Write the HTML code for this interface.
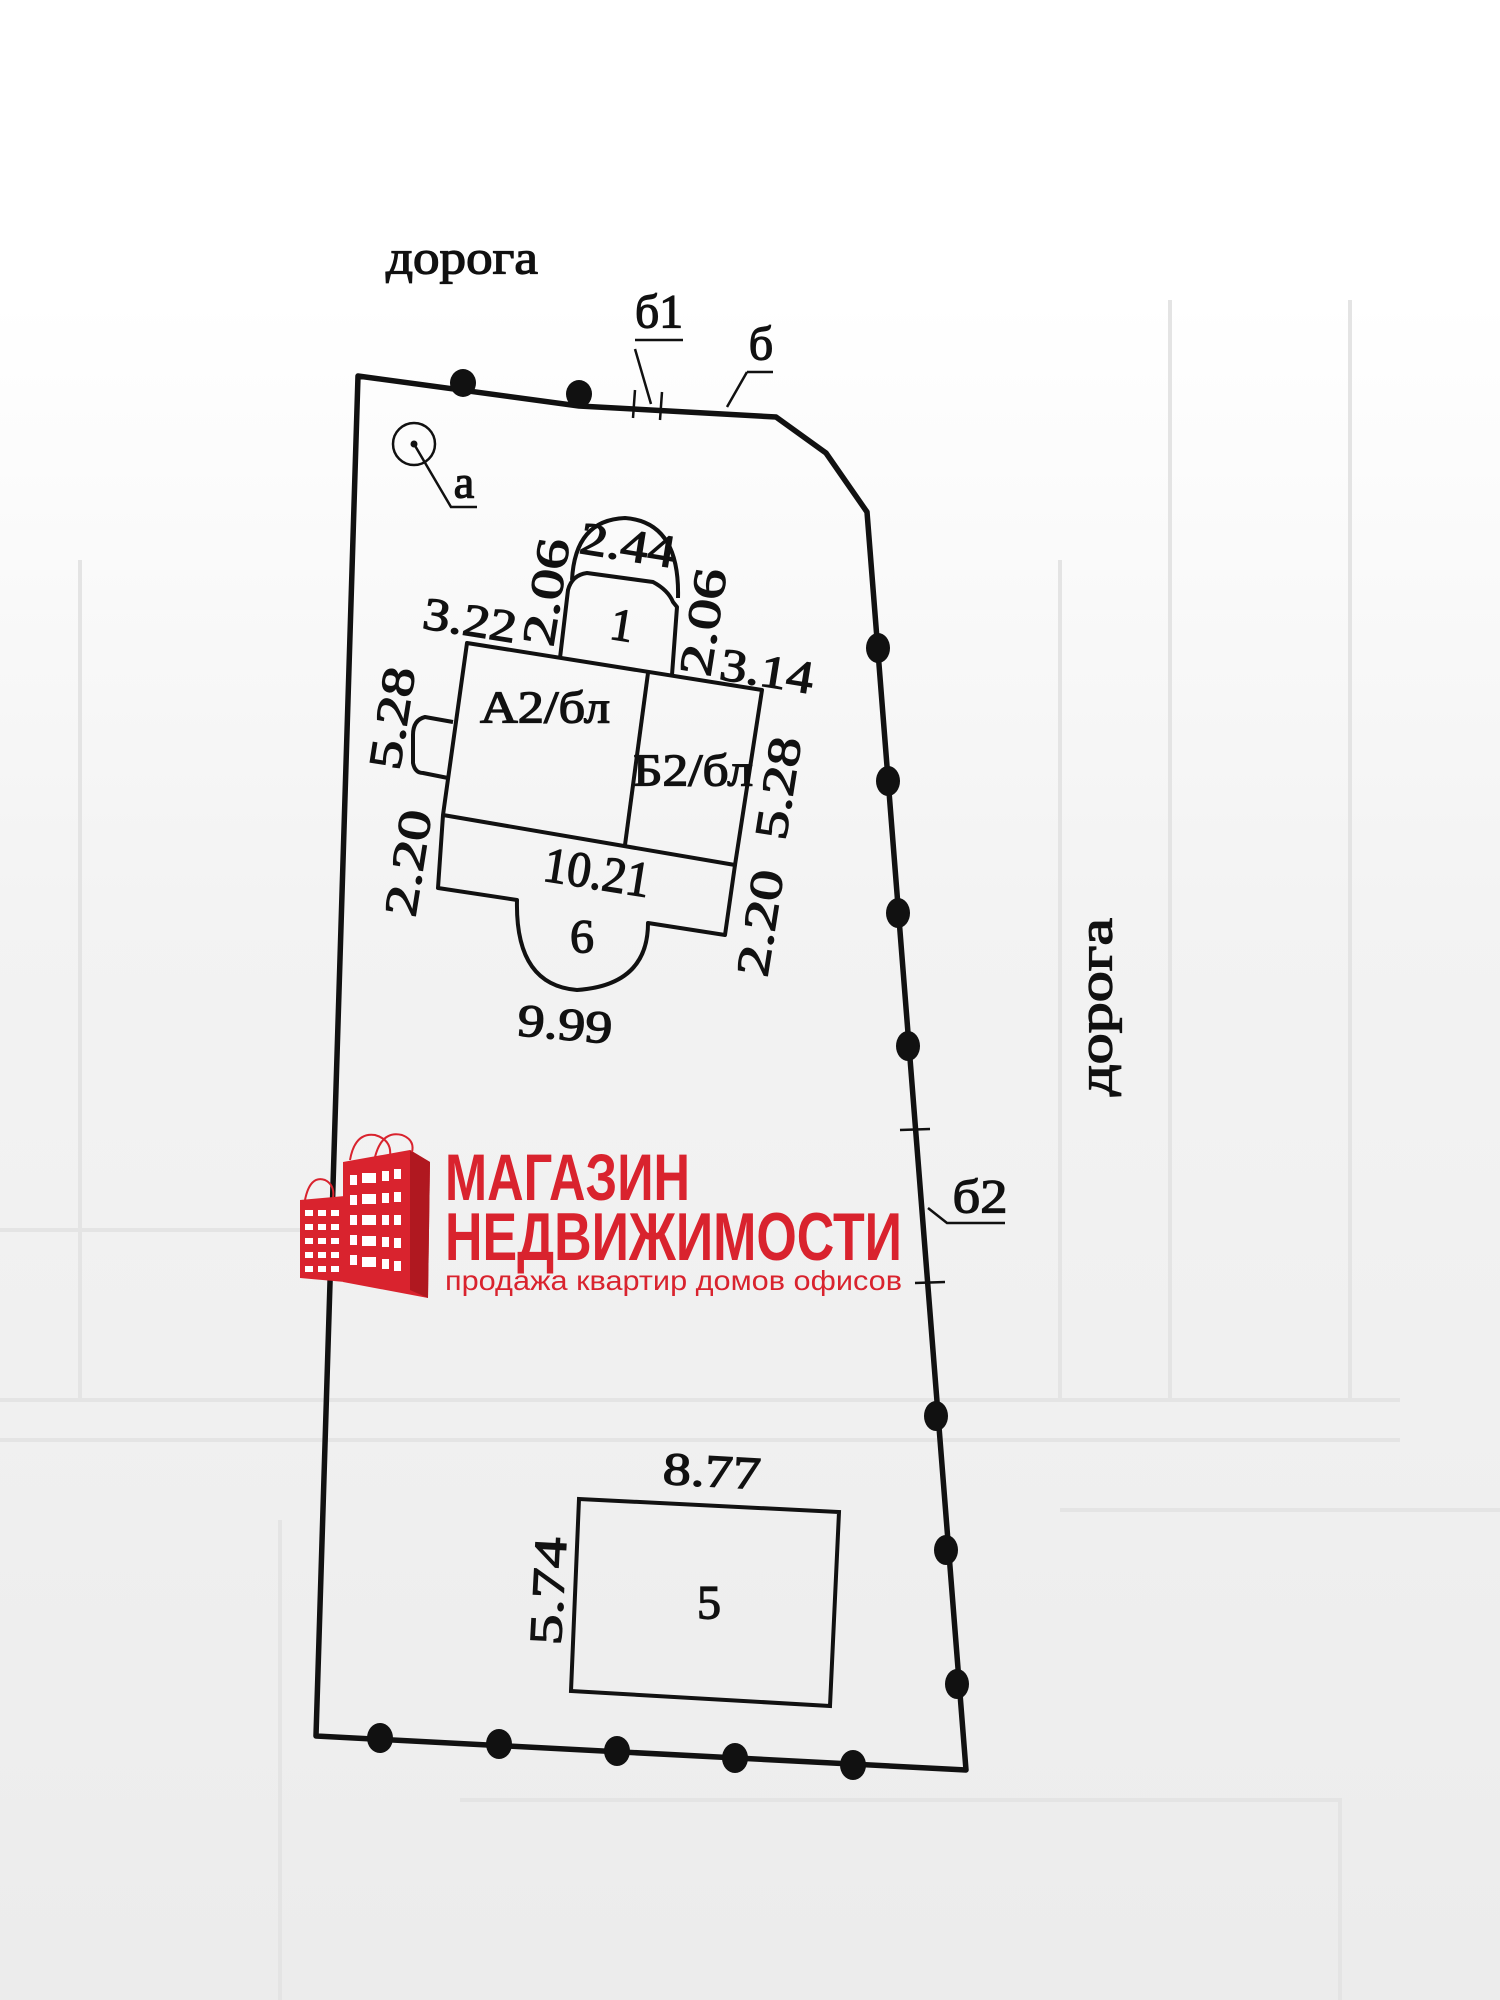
<!DOCTYPE html>
<html><head><meta charset="utf-8"><style>
html,body{margin:0;padding:0;background:#fff;}
svg{display:block;}
.t{font-family:"Liberation Serif",serif;fill:#111;stroke:#111;stroke-width:1.3;text-anchor:middle;dominant-baseline:central;}
.l{font-family:"Liberation Sans Narrow","Liberation Sans",sans-serif;font-weight:bold;fill:#d9232e;}
</style></head><body>
<svg width="1500" height="2000" viewBox="0 0 1500 2000" xmlns="http://www.w3.org/2000/svg">
<defs>
<linearGradient id="bg" x1="0" y1="0" x2="0" y2="1">
<stop offset="0" stop-color="#ffffff"/>
<stop offset="0.15" stop-color="#ffffff"/>
<stop offset="0.45" stop-color="#f3f3f3"/>
<stop offset="1" stop-color="#ececec"/>
</linearGradient>
</defs>
<rect width="1500" height="2000" fill="url(#bg)"/>
<g stroke="#e4e4e4" stroke-width="4" fill="none">
<path d="M0 1400 L1400 1400 M0 1440 L1400 1440 M1060 560 L1060 1400 M1170 300 L1170 1400"/>
<path d="M1060 1510 L1500 1510 M1350 300 L1350 1400"/>
<path d="M280 1520 L280 2000 M460 1800 L1340 1800 L1340 2000"/>
<path d="M0 1230 L300 1230 M80 560 L80 1400"/>
</g>
<g stroke="#111" fill="none" stroke-linejoin="round">
<path d="M358 376 L579 406 L776 417 L826 453 L867 512 L966 1770 L316 1736 Z" stroke-width="5.5"/>
</g>
<g fill="#111">
<ellipse cx="463" cy="383" rx="13" ry="14"/>
<ellipse cx="579" cy="394" rx="13" ry="14"/>
<ellipse cx="878" cy="648" rx="12" ry="15"/>
<ellipse cx="888" cy="781" rx="12" ry="15"/>
<ellipse cx="898" cy="913" rx="12" ry="15"/>
<ellipse cx="908" cy="1046" rx="12" ry="15"/>
<ellipse cx="936" cy="1416" rx="12" ry="15"/>
<ellipse cx="946" cy="1550" rx="12" ry="15"/>
<ellipse cx="957" cy="1684" rx="12" ry="15"/>
<ellipse cx="380" cy="1738" rx="13" ry="15"/>
<ellipse cx="499" cy="1744" rx="13" ry="15"/>
<ellipse cx="617" cy="1751" rx="13" ry="15"/>
<ellipse cx="735" cy="1758" rx="13" ry="15"/>
<ellipse cx="853" cy="1765" rx="13" ry="15"/>
</g>
<g stroke="#111" fill="none" stroke-width="2.5">
<path d="M635 390 L633 418 M662 392 L660 420"/>
<path d="M900 1130 L930 1129 M915 1283 L945 1282"/>
<path d="M635 349 L651 404 M635 340 L683 340"/>
<path d="M747 372 L727 407 M747 372 L773 372"/>
<path d="M928 1208 L947 1223 L1005 1223"/>
<circle cx="414" cy="444" r="21"/>
<path d="M414 444 L451 507 L477 507"/>
</g>
<circle cx="414" cy="444" r="3.5" fill="#111"/>
<g stroke="#111" fill="none" stroke-width="4" stroke-linejoin="round">
<path d="M467 643 L762 690 L735 865 L443 815 Z"/>
<path d="M648 673 L625 845"/>
<path d="M443 815 L438 888 L517 900 Q515 985 577 990 Q648 985 648 923 L725 935 L735 865"/>
<path d="M560 658 L568 590 Q572 575 587 573 L653 582 Q668 590 673 602 L677 607 L672 675"/>
<path d="M572 580 Q575 520 625 518 Q680 522 678 598"/>
<path d="M453 722 L425 717 Q413 720 413 735 L413 763 Q415 773 423 773 L448 778"/>
</g>
<path d="M579 1499 L839 1512 L830 1706 L571 1691 Z" stroke="#111" fill="none" stroke-width="4"/>
<text class="t" x="462" y="258" font-size="48" textLength="152" lengthAdjust="spacingAndGlyphs">дорога</text>
<text class="t" x="659" y="312" font-size="48" textLength="48" lengthAdjust="spacingAndGlyphs">б1</text>
<text class="t" x="761" y="344" font-size="48">б</text>
<text class="t" x="464" y="482" font-size="46">а</text>
<text class="t" x="980" y="1197" font-size="48" textLength="55" lengthAdjust="spacingAndGlyphs">б2</text>
<text class="t" transform="translate(1096,1007) rotate(-90)" font-size="48" textLength="178" lengthAdjust="spacingAndGlyphs">дорога</text>
<text class="t" transform="translate(470,620) rotate(9)" font-size="46" textLength="94" lengthAdjust="spacingAndGlyphs">3.22</text>
<text class="t" transform="translate(546,592) rotate(-81)" font-size="46" textLength="108" lengthAdjust="spacingAndGlyphs">2.06</text>
<text class="t" transform="translate(628,545) rotate(9)" font-size="46" textLength="96" lengthAdjust="spacingAndGlyphs">2.44</text>
<text class="t" transform="translate(703,622) rotate(-81)" font-size="46" textLength="108" lengthAdjust="spacingAndGlyphs">2.06</text>
<text class="t" transform="translate(767,671) rotate(9)" font-size="46" textLength="94" lengthAdjust="spacingAndGlyphs">3.14</text>
<text class="t" transform="translate(622,625) rotate(9)" font-size="46">1</text>
<text class="t" x="545" y="707" font-size="46" textLength="130" lengthAdjust="spacingAndGlyphs">А2/бл</text>
<text class="t" x="693" y="770" font-size="46" textLength="120" lengthAdjust="spacingAndGlyphs">Б2/бл</text>
<text class="t" transform="translate(392,718) rotate(-81)" font-size="46" textLength="103" lengthAdjust="spacingAndGlyphs">5.28</text>
<text class="t" transform="translate(778,788) rotate(-81)" font-size="46" textLength="103" lengthAdjust="spacingAndGlyphs">5.28</text>
<text class="t" transform="translate(408,863) rotate(-81)" font-size="46" textLength="107" lengthAdjust="spacingAndGlyphs">2.20</text>
<text class="t" transform="translate(597,872) rotate(9)" font-size="50" textLength="107" lengthAdjust="spacingAndGlyphs">10.21</text>
<text class="t" x="582" y="937" font-size="48">6</text>
<text class="t" transform="translate(760,923) rotate(-81)" font-size="46" textLength="107" lengthAdjust="spacingAndGlyphs">2.20</text>
<text class="t" transform="translate(565,1024) rotate(5)" font-size="46" textLength="95" lengthAdjust="spacingAndGlyphs">9.99</text>
<text class="t" transform="translate(712,1471) rotate(3)" font-size="46" textLength="98" lengthAdjust="spacingAndGlyphs">8.77</text>
<text class="t" transform="translate(548,1591) rotate(-87)" font-size="46" textLength="108" lengthAdjust="spacingAndGlyphs">5.74</text>
<text class="t" x="709" y="1603" font-size="48">5</text>
<g>
<path d="M300 1200 L345 1196 L345 1282 L300 1278 Z" fill="#d9232e"/>
<path d="M343 1162 L410 1150 L430 1162 L428 1298 L343 1282 Z" fill="#d9232e"/>
<path d="M410 1150 L430 1162 L428 1298 L410 1290 Z" fill="#b01820"/>
<g fill="#fff">
<rect x="305" y="1210" width="8" height="6"/><rect x="318" y="1210" width="8" height="6"/><rect x="331" y="1210" width="8" height="6"/>
<rect x="305" y="1224" width="8" height="6"/><rect x="318" y="1224" width="8" height="6"/><rect x="331" y="1224" width="8" height="6"/>
<rect x="305" y="1238" width="8" height="6"/><rect x="318" y="1238" width="8" height="6"/><rect x="331" y="1238" width="8" height="6"/>
<rect x="305" y="1252" width="8" height="6"/><rect x="318" y="1252" width="8" height="6"/><rect x="331" y="1252" width="8" height="6"/>
<rect x="305" y="1266" width="8" height="6"/><rect x="318" y="1266" width="8" height="6"/><rect x="331" y="1266" width="8" height="6"/>
<rect x="350" y="1175" width="7" height="10"/><rect x="362" y="1173" width="14" height="10"/><rect x="382" y="1171" width="7" height="10"/><rect x="394" y="1169" width="7" height="10"/>
<rect x="350" y="1195" width="7" height="10"/><rect x="362" y="1194" width="14" height="10"/><rect x="382" y="1193" width="7" height="10"/><rect x="394" y="1192" width="7" height="10"/>
<rect x="350" y="1215" width="7" height="10"/><rect x="362" y="1215" width="14" height="10"/><rect x="382" y="1215" width="7" height="10"/><rect x="394" y="1215" width="7" height="10"/>
<rect x="350" y="1235" width="7" height="10"/><rect x="362" y="1236" width="14" height="10"/><rect x="382" y="1237" width="7" height="10"/><rect x="394" y="1238" width="7" height="10"/>
<rect x="350" y="1255" width="7" height="10"/><rect x="362" y="1257" width="14" height="10"/><rect x="382" y="1259" width="7" height="10"/><rect x="394" y="1261" width="7" height="10"/>
</g>
<path d="M305 1200 Q310 1175 325 1180 Q335 1185 333 1198 M350 1160 Q355 1132 375 1135 Q392 1140 390 1156 M375 1157 Q382 1130 402 1135 Q415 1140 412 1152" stroke="#d9232e" stroke-width="2" fill="none"/>
<text class="l" x="445" y="1200" font-size="66" textLength="245" lengthAdjust="spacingAndGlyphs">МАГАЗИН</text>
<text class="l" x="445" y="1260" font-size="68" textLength="457" lengthAdjust="spacingAndGlyphs">НЕДВИЖИМОСТИ</text>
<text x="445" y="1290" font-family="Liberation Sans Narrow, Liberation Sans, sans-serif" font-size="28" fill="#d9232e" textLength="457" lengthAdjust="spacingAndGlyphs">продажа  квартир  домов  офисов</text>
</g>
</svg>
</body></html>
